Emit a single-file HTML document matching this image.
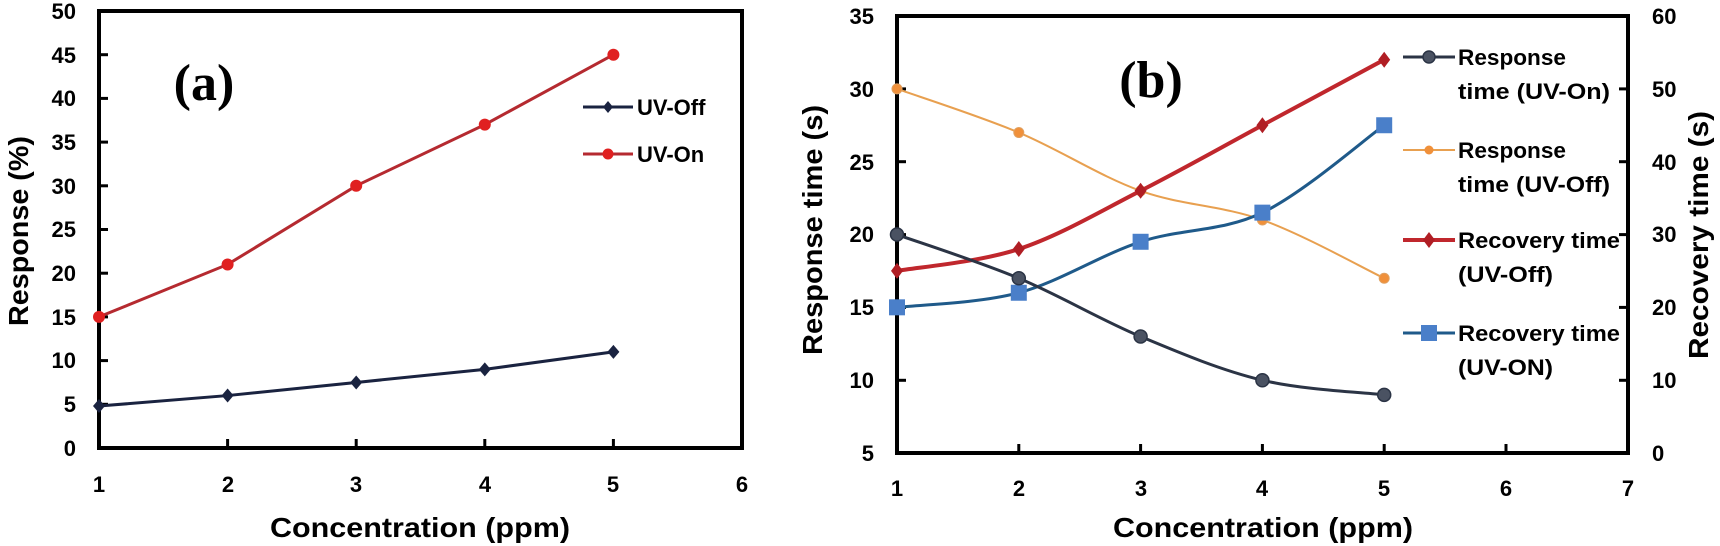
<!DOCTYPE html>
<html><head><meta charset="utf-8"><style>
html,body{margin:0;padding:0;background:#fff;}
svg{display:block;font-family:"Liberation Sans",sans-serif;font-weight:bold;}
</style></head><body>
<svg id="s" width="1720" height="546" viewBox="0 0 1720 546" xmlns="http://www.w3.org/2000/svg">
<!-- Panel a frame -->
<rect x="99" y="11" width="643" height="437" fill="none" stroke="#000" stroke-width="4"/>
<g stroke="#000" stroke-width="3">
<line x1="99" y1="404.3" x2="108" y2="404.3"/><line x1="99" y1="360.6" x2="108" y2="360.6"/><line x1="99" y1="316.9" x2="108" y2="316.9"/><line x1="99" y1="273.2" x2="108" y2="273.2"/><line x1="99" y1="229.5" x2="108" y2="229.5"/><line x1="99" y1="185.8" x2="108" y2="185.8"/><line x1="99" y1="142.1" x2="108" y2="142.1"/><line x1="99" y1="98.4" x2="108" y2="98.4"/><line x1="99" y1="54.7" x2="108" y2="54.7"/>
<line x1="227.6" y1="448" x2="227.6" y2="439"/><line x1="356.2" y1="448" x2="356.2" y2="439"/><line x1="484.8" y1="448" x2="484.8" y2="439"/><line x1="613.4" y1="448" x2="613.4" y2="439"/>
</g>
<g font-size="22" text-anchor="end">
<text x="76" y="456">0</text><text x="76" y="412">5</text><text x="76" y="368">10</text><text x="76" y="325">15</text><text x="76" y="281">20</text><text x="76" y="237">25</text><text x="76" y="194">30</text><text x="76" y="150">35</text><text x="76" y="106">40</text><text x="76" y="63">45</text><text x="76" y="19">50</text>
</g>
<g font-size="22" text-anchor="middle">
<text x="99" y="492">1</text><text x="228" y="492">2</text><text x="356" y="492">3</text><text x="485" y="492">4</text><text x="613" y="492">5</text><text x="742" y="492">6</text>
</g>
<text x="420" y="537" font-size="28" text-anchor="middle" textLength="300" lengthAdjust="spacingAndGlyphs">Concentration (ppm)</text>
<text transform="translate(28,231) rotate(-90)" font-size="28" text-anchor="middle" textLength="190" lengthAdjust="spacingAndGlyphs">Response (%)</text>
<text x="204" y="100" font-family="Liberation Serif,serif" font-size="52" text-anchor="middle">(a)</text>
<line x1="583" y1="107" x2="633" y2="107" stroke="#1a2340" stroke-width="3"/>
<path d="M608 101 L613 107 L608 113 L603 107Z" fill="#1a2340"/>
<text x="637" y="115" font-size="22">UV-Off</text>
<line x1="583" y1="154" x2="633" y2="154" stroke="#b52a30" stroke-width="3"/>
<circle cx="608" cy="154" r="5.5" fill="#e02020"/>
<text x="637" y="162" font-size="22">UV-On</text>

<!-- Panel b frame -->
<rect x="897" y="16" width="731" height="437" fill="none" stroke="#000" stroke-width="4"/>
<g stroke="#000" stroke-width="3">
<line x1="897" y1="380.3" x2="906" y2="380.3"/><line x1="897" y1="307.4" x2="906" y2="307.4"/><line x1="897" y1="234.6" x2="906" y2="234.6"/><line x1="897" y1="161.7" x2="906" y2="161.7"/><line x1="897" y1="88.9" x2="906" y2="88.9"/>
<line x1="1628" y1="380.3" x2="1619" y2="380.3"/><line x1="1628" y1="307.4" x2="1619" y2="307.4"/><line x1="1628" y1="234.6" x2="1619" y2="234.6"/><line x1="1628" y1="161.7" x2="1619" y2="161.7"/><line x1="1628" y1="88.9" x2="1619" y2="88.9"/>
<line x1="1018.8" y1="453" x2="1018.8" y2="444"/><line x1="1140.6" y1="453" x2="1140.6" y2="444"/><line x1="1262.4" y1="453" x2="1262.4" y2="444"/><line x1="1384.2" y1="453" x2="1384.2" y2="444"/><line x1="1506" y1="453" x2="1506" y2="444"/>
</g>
<g font-size="22" text-anchor="end">
<text x="874" y="461">5</text><text x="874" y="388">10</text><text x="874" y="315">15</text><text x="874" y="242">20</text><text x="874" y="170">25</text><text x="874" y="97">30</text><text x="874" y="24">35</text>
</g>
<g font-size="22" text-anchor="start">
<text x="1652" y="461">0</text><text x="1652" y="388">10</text><text x="1652" y="315">20</text><text x="1652" y="242">30</text><text x="1652" y="170">40</text><text x="1652" y="97">50</text><text x="1652" y="24">60</text>
</g>
<g font-size="22" text-anchor="middle">
<text x="897" y="496">1</text><text x="1019" y="496">2</text><text x="1141" y="496">3</text><text x="1262" y="496">4</text><text x="1384" y="496">5</text><text x="1506" y="496">6</text><text x="1628" y="496">7</text>
</g>
<text x="1263" y="537" font-size="28" text-anchor="middle" textLength="300" lengthAdjust="spacingAndGlyphs">Concentration (ppm)</text>
<text transform="translate(822,230) rotate(-90)" font-size="28" text-anchor="middle" textLength="250" lengthAdjust="spacingAndGlyphs">Response time (s)</text>
<text transform="translate(1708,235) rotate(-90)" font-size="28" text-anchor="middle" textLength="248" lengthAdjust="spacingAndGlyphs">Recovery time (s)</text>
<text x="1151" y="97" font-family="Liberation Serif,serif" font-size="52" text-anchor="middle">(b)</text>
<g font-size="22">
<line x1="1403" y1="57" x2="1455" y2="57" stroke="#2b3445" stroke-width="3"/><circle cx="1429" cy="57" r="6" fill="#4a5262" stroke="#2b3445" stroke-width="1.5"/>
<text x="1458" y="65" textLength="108" lengthAdjust="spacingAndGlyphs">Response</text>
<text x="1458" y="99" textLength="152" lengthAdjust="spacingAndGlyphs">time (UV-On)</text>
<line x1="1403" y1="150" x2="1455" y2="150" stroke="#e8a050" stroke-width="2"/><circle cx="1429" cy="150" r="4.5" fill="#f0903a"/>
<text x="1458" y="158" textLength="108" lengthAdjust="spacingAndGlyphs">Response</text>
<text x="1458" y="192" textLength="152" lengthAdjust="spacingAndGlyphs">time (UV-Off)</text>
<line x1="1403" y1="240" x2="1455" y2="240" stroke="#c0272d" stroke-width="4"/><path d="M1429 232 L1435 240 L1429 248 L1423 240Z" fill="#b01e24"/>
<text x="1458" y="248" textLength="162" lengthAdjust="spacingAndGlyphs">Recovery time</text>
<text x="1458" y="282" textLength="95" lengthAdjust="spacingAndGlyphs">(UV-Off)</text>
<line x1="1403" y1="333" x2="1455" y2="333" stroke="#1f5a8a" stroke-width="3"/><rect x="1421" y="325" width="16" height="16" fill="#4a7fc9"/>
<text x="1458" y="341" textLength="162" lengthAdjust="spacingAndGlyphs">Recovery time</text>
<text x="1458" y="375" textLength="95" lengthAdjust="spacingAndGlyphs">(UV-ON)</text>
</g>
<g id="series"></g>
</svg>
<script>
(function(){
var g=document.getElementById('series'),NS='http://www.w3.org/2000/svg';
function el(t,a){var e=document.createElementNS(NS,t);for(var k in a)e.setAttribute(k,a[k]);g.appendChild(e);return e;}
function lin(p){return 'M'+p.map(function(q){return q[0]+' '+q[1]}).join(' L');}
function smooth(p){var d='M'+p[0][0]+' '+p[0][1];for(var i=0;i<p.length-1;i++){var p0=p[i-1]||p[i],p1=p[i],p2=p[i+1],p3=p[i+2]||p2;
d+=' C'+(p1[0]+(p2[0]-p0[0])/6)+' '+(p1[1]+(p2[1]-p0[1])/6)+' '+(p2[0]-(p3[0]-p1[0])/6)+' '+(p2[1]-(p3[1]-p1[1])/6)+' '+p2[0]+' '+p2[1];}return d;}
var XA=function(x){return 99+(x-1)*128.6},YA=function(v){return 448-v*8.74};
var red=[15,21,30,37,45].map(function(v,i){return[XA(i+1),YA(v)]});
var blu=[4.8,6,7.5,9,11].map(function(v,i){return[XA(i+1),YA(v)]});
el('path',{d:lin(red),fill:'none',stroke:'#b52a30','stroke-width':3});
red.forEach(function(p){el('circle',{cx:p[0],cy:p[1],r:6,fill:'#e02020'})});
el('path',{d:lin(blu),fill:'none',stroke:'#1a2340','stroke-width':3});
blu.forEach(function(p){el('path',{d:'M'+p[0]+' '+(p[1]-7)+' L'+(p[0]+6)+' '+p[1]+' L'+p[0]+' '+(p[1]+7)+' L'+(p[0]-6)+' '+p[1]+'Z',fill:'#1a2340'})});
var XB=function(x){return 897+(x-1)*121.8},YL=function(v){return 16+(35-v)*14.57},YR=function(v){return 16+(60-v)*7.283};
var rOn=[20,17,13,10,9].map(function(v,i){return[XB(i+1),YL(v)]});
var rOff=[30,27,23,21,17].map(function(v,i){return[XB(i+1),YL(v)]});
var cOff=[25,28,36,45,54].map(function(v,i){return[XB(i+1),YR(v)]});
var cOn=[20,22,29,33,45].map(function(v,i){return[XB(i+1),YR(v)]});
el('path',{d:smooth(rOff),fill:'none',stroke:'#e8a050','stroke-width':2});
rOff.forEach(function(p){el('circle',{cx:p[0],cy:p[1],r:5,fill:'#f0903a',stroke:'#e0a060','stroke-width':1})});
el('path',{d:smooth(cOff),fill:'none',stroke:'#c0272d','stroke-width':4});
cOff.forEach(function(p){el('path',{d:'M'+p[0]+' '+(p[1]-8)+' L'+(p[0]+6)+' '+p[1]+' L'+p[0]+' '+(p[1]+8)+' L'+(p[0]-6)+' '+p[1]+'Z',fill:'#b01e24'})});
el('path',{d:smooth(cOn),fill:'none',stroke:'#1f5a8a','stroke-width':3});
cOn.forEach(function(p){el('rect',{x:p[0]-8,y:p[1]-8,width:16,height:16,fill:'#4a7fc9'})});
el('path',{d:smooth(rOn),fill:'none',stroke:'#2b3445','stroke-width':3});
rOn.forEach(function(p){el('circle',{cx:p[0],cy:p[1],r:6.5,fill:'#4a5262',stroke:'#2b3445','stroke-width':1.5})});
})();
</script>
</body></html>
